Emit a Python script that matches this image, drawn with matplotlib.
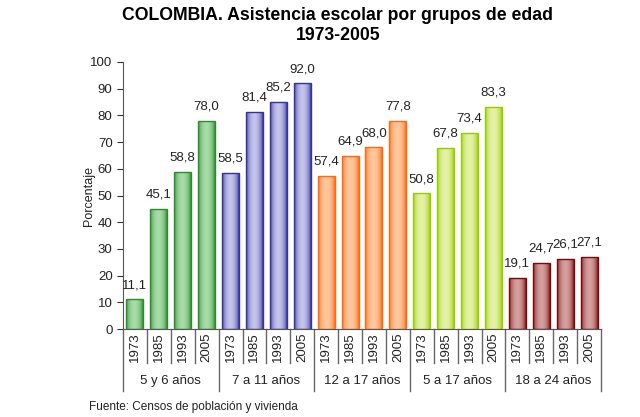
import matplotlib
matplotlib.use("Agg")
import matplotlib.pyplot as plt
import matplotlib.colors as mcolors
import matplotlib.transforms as mtrans
import numpy as np

plt.rcParams['font.family'] = ['Liberation Sans', 'DejaVu Sans']

groups = ["5 y 6 años", "7 a 11 años", "12 a 17 años", "5 a 17 años", "18 a 24 años"]
years = ["1973", "1985", "1993", "2005"]
values = [
    [11.1, 45.1, 58.8, 78.0],
    [58.5, 81.4, 85.2, 92.0],
    [57.4, 64.9, 68.0, 77.8],
    [50.8, 67.8, 73.4, 83.3],
    [19.1, 24.7, 26.1, 27.1],
]
edge_colors = ["#2E8B2E", "#33339A", "#FF6A10", "#99CC00", "#7A0A0A"]
light_colors = ["#A8DCA8", "#C4C4EC", "#FFC8A0", "#E4F2A8", "#D4A0A0"]

fig = plt.figure(figsize=(6.4, 4.17), dpi=100)
ax = fig.add_axes([123/640, 1-329/417, (601-123)/640, (329-62)/417])

n_per = len(years)
xs, hs, gidx = [], [], []
for g, vals in enumerate(values):
    for j, v in enumerate(vals):
        xs.append(g*n_per + j)
        hs.append(v)
        gidx.append(g)

bars = ax.bar(xs, hs, width=0.71, color="none", zorder=3)
t = np.linspace(0, 1, 64)
prof = np.sin(np.pi*t)**0.6
for b, g in zip(bars, gidx):
    e = np.array(mcolors.to_rgb(edge_colors[g]))
    l = np.array(mcolors.to_rgb(light_colors[g]))
    img = (e[None, :]*(1-prof[:, None]) + l[None, :]*prof[:, None])[None, :, :]
    x0, w, h = b.get_x(), b.get_width(), b.get_height()
    im = ax.imshow(img, extent=[x0, x0+w, 0, h], aspect="auto", zorder=2, interpolation="bilinear")
    im.set_clip_path(b)
    b.set_edgecolor(edge_colors[g])
    b.set_linewidth(1.0)
    ax.annotate(f"{h:.1f}".replace(".", ","), (b.get_x()+w/2, h), xytext=(0, 6),
                textcoords="offset points", ha="center", va="bottom",
                fontsize=9.5, color="#222222", zorder=4)

ax.set_xlim(-0.5, len(xs)-0.5)
ax.set_ylim(0, 100)
ax.set_yticks(range(0, 101, 10))
ax.tick_params(axis="y", labelsize=9.5, length=4, colors="#333333", labelcolor="#222222")
ax.set_xticks([])
for s in ["top", "right"]:
    ax.spines[s].set_visible(False)
ax.spines["left"].set_color("#555555")
ax.spines["bottom"].set_color("#555555")
ax.set_ylabel("Porcentaje", fontsize=9, color="#222222")
ax.yaxis.set_label_coords(-(123-95)/478, 0.5)

trans = mtrans.blended_transform_factory(ax.transData, ax.transAxes)
short_y = -(363-329)/267
long_y = -(391-329)/267
for k in range(len(xs)+1):
    xb = k - 0.5
    y1 = long_y if k % n_per == 0 else short_y
    ax.plot([xb, xb], [0, y1], transform=trans, color="#666666", lw=1.0, clip_on=False)
for x, g in zip(xs, gidx):
    ax.text(x, -(347-329)/267, years[x % n_per], transform=trans, rotation=90,
            ha="center", va="center", fontsize=9.5, color="#222222")
for g, name in enumerate(groups):
    ax.text(g*n_per + (n_per-1)/2, -(381-329)/267, name, transform=trans,
            ha="center", va="center", fontsize=9.5, color="#222222")

fig.text(338/640, 1-16/417, "COLOMBIA. Asistencia escolar por grupos de edad", ha="center",
         va="center", fontsize=12.7, fontweight="bold")
fig.text(338/640, 1-36/417, "1973-2005", ha="center", va="center", fontsize=12.7, fontweight="bold")
fig.text(89/640, 1-407/417, "Fuente: Censos de población y vivienda", ha="left", va="center",
         fontsize=8.5, color="#222222")

fig.savefig("out.png", dpi=100, facecolor="white")
